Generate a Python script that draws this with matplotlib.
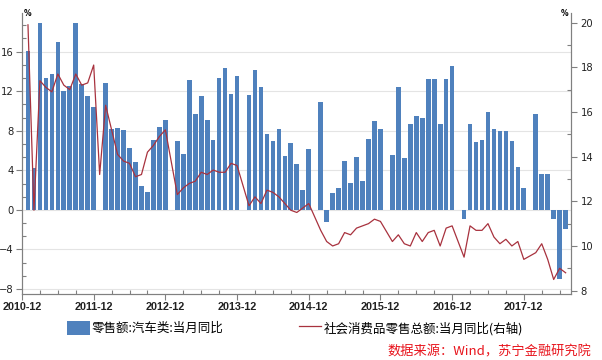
import matplotlib
matplotlib.use("Agg")
import matplotlib.pyplot as plt
from matplotlib.lines import Line2D
from matplotlib.patches import Patch
import numpy as np
import pandas as pd

# monthly data, 2011-01 .. 2018-07 (January gaps left empty)
months = pd.period_range("2011-01", "2018-07", freq="M")
nan = np.nan

# 零售额:汽车类:当月同比 (left axis, %)
auto_yoy = [
    16.1, 4.2, 18.9, 13.3, 13.7, 17.0, 12.0, 12.5, 18.9, 12.7, 11.5, 10.4,   # 2011
    nan, 12.8, 8.2, 8.3, 8.1, 6.3, 4.8, 2.4, 1.8, 7.1, 8.4, 9.1,            # 2012
    nan, 7.0, 5.6, 13.1, 9.7, 11.5, 9.1, 7.1, 13.3, 14.3, 11.7, 13.5,       # 2013
    nan, 11.6, 14.1, 12.4, 7.7, 7.0, 8.2, 5.4, 6.8, 4.6, 2.0, 6.2,          # 2014
    nan, 10.9, -1.2, 1.7, 2.2, 4.9, 2.7, 5.3, 2.9, 7.2, 9.0, 8.2,           # 2015
    nan, 5.5, 12.4, 5.2, 8.7, 9.5, 9.3, 13.2, 13.2, 8.7, 13.2, 14.5,        # 2016
    nan, -0.9, 8.7, 6.9, 7.1, 9.9, 8.2, 8.0, 8.0, 7.0, 4.3, 2.2,            # 2017
    nan, 9.7, 3.6, 3.6, -0.9, -7.0, -1.9,                                    # 2018
]

# 社会消费品零售总额:当月同比 (right axis, %)
retail_yoy = [
    19.9, 11.6, 17.4, 17.1, 16.9, 17.7, 17.2, 17.0, 17.7, 17.2, 17.3, 18.1,
    13.2, 16.3, 15.2, 14.1, 13.8, 13.7, 13.1, 13.2, 14.2, 14.5, 14.9, 15.2,
    nan, 12.3, 12.6, 12.8, 12.9, 13.3, 13.2, 13.4, 13.3, 13.3, 13.7, 13.6,
    nan, 11.8, 12.2, 11.9, 12.5, 12.4, 12.2, 11.9, 11.6, 11.5, 11.7, 11.9,
    nan, 10.7, 10.2, 10.0, 10.1, 10.6, 10.5, 10.8, 10.9, 11.0, 11.2, 11.1,
    nan, 10.2, 10.5, 10.1, 10.0, 10.6, 10.2, 10.6, 10.7, 10.0, 10.8, 10.9,
    nan, 9.5, 10.9, 10.7, 10.7, 11.0, 10.4, 10.1, 10.3, 10.0, 10.2, 9.4,
    nan, 9.7, 10.1, 9.4, 8.5, 9.0, 8.8,
]

year_labels = ["2010-12", "2011-12", "2012-12", "2013-12",
               "2014-12", "2015-12", "2016-12", "2017-12"]

BAR_LABEL = "零售额:汽车类:当月同比"
LINE_LABEL = "社会消费品零售总额:当月同比(右轴)"
SOURCE = "数据来源：Wind，苏宁金融研究院"

BLUE = "#4f81bd"
RED = "#a8323e"
AXIS_GREY = "#808080"

plt.rcParams["font.family"] = ["Noto Sans CJK SC", "DejaVu Sans"]

start = pd.Period("2010-12", freq="M")
x = np.array([(m - start).n for m in months])
year_x = [(pd.Period(s, freq="M") - start).n for s in year_labels]
auto = np.array(auto_yoy, dtype=float)
retail = np.array(retail_yoy, dtype=float)

fig = plt.figure(figsize=(6.02, 3.6), dpi=100)
ax = fig.add_axes([22 / 602, 1 - 294 / 360, 549 / 602, 281 / 360])

ax.bar(x, auto, width=0.78, color=BLUE, zorder=2)
ax.set_xlim(0, 91.9)
ax.set_ylim(-8.5, 19.9)
ax.set_yticks([-8, -4, 0, 4, 8, 12, 16])
ax.set_yticks(np.arange(-8, 19.9, 4 / 3), minor=True)
ax.grid(axis="y", which="major", color="#e4e4e4", lw=0.8)
ax.set_axisbelow(True)

ax.set_xticks(year_x)
ax.set_xticklabels(year_labels, fontfamily="Liberation Sans",
                   fontweight="bold", fontsize=7.8)
ax.set_xticks(np.arange(0, 92, 3), minor=True)

ax2 = ax.twinx()
ok = ~np.isnan(retail)
ax2.plot(x[ok], retail[ok], color=RED, lw=0.9)
ax2.set_ylim(7.85, 20.43)
ax2.set_yticks(np.arange(8, 21, 2))
ax2.set_yticks(np.arange(8, 21, 1), minor=True)

for a in (ax, ax2):
    a.tick_params(which="major", direction="out", length=4, width=0.8,
                  color=AXIS_GREY, labelcolor="#222222")
    a.tick_params(which="minor", direction="in", length=3, width=0.8,
                  color=AXIS_GREY)
    a.spines["top"].set_visible(False)
    for s in ("left", "right", "bottom"):
        a.spines[s].set_color(AXIS_GREY)
        a.spines[s].set_linewidth(0.8)
ax.tick_params(axis="x", which="major", pad=2)
ax.tick_params(axis="y", which="major", pad=2)
ax2.tick_params(axis="y", which="major", pad=3)
for lab in ax.get_yticklabels() + ax2.get_yticklabels():
    lab.set_fontfamily("DejaVu Sans")
    lab.set_fontsize(7.2)

ax.text(0.004, 1.0, "%", transform=ax.transAxes, ha="left", va="center",
        fontsize=5.5, fontweight="bold", fontfamily="DejaVu Sans")
ax.text(0.995, 1.0, "%", transform=ax.transAxes, ha="right", va="center",
        fontsize=5.5, fontweight="bold", fontfamily="DejaVu Sans")

handles = [Patch(facecolor=BLUE, label=BAR_LABEL),
           Line2D([], [], color=RED, lw=0.9, label=LINE_LABEL)]
fig.legend(handles=handles, ncol=2, loc="center left",
           bbox_to_anchor=(67 / 602, 1 - 328 / 360), frameon=False,
           fontsize=9, handlelength=1.8, handleheight=1.4,
           handletextpad=0.2, columnspacing=6.0, borderpad=0,
           borderaxespad=0)

fig.text(591 / 602, 1 - 352 / 360, SOURCE, color="#e8141c", fontsize=9.5,
         ha="right", va="center")

fig.savefig("out.png", dpi=100)
